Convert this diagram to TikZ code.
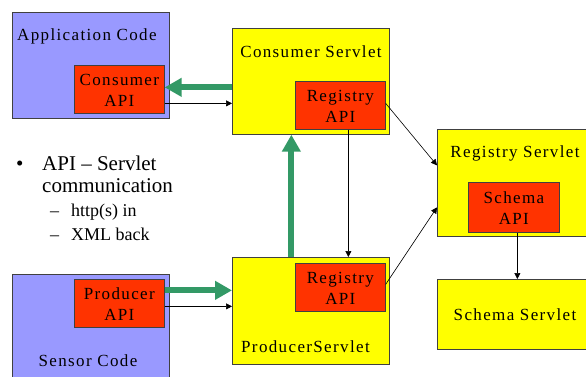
\documentclass[tikz,border=0pt]{standalone}
\usepackage{fontspec}
\setmainfont{Liberation Serif}
\newfontfamily\boxfont[LetterSpace=8]{Liberation Serif}
\usetikzlibrary{arrows.meta}
\definecolor{codeblue}{HTML}{9999FF}
\definecolor{apired}{HTML}{FF3300}
\definecolor{servyellow}{HTML}{FFFF00}
\definecolor{flowgreen}{HTML}{339966}
\tikzset{
  region/.style={draw=black!75, line width=0.7pt, anchor=north west, inner sep=0pt},
  codebox/.style={region, fill=codeblue},
  servbox/.style={region, fill=servyellow},
  apibox/.style={region, fill=apired},
  lbl/.style={font=\boxfont\fontsize{17}{21}\selectfont, inner sep=0pt, align=center},
  thin/.style={draw=black, line width=0.6pt, -{Triangle[length=6pt,width=6pt]}},
  bigflow/.style={draw=flowgreen, line width=6pt, -{Triangle[length=17pt,width=18pt]}},
}
\begin{document}
\begin{tikzpicture}[x=1pt,y=-1pt]
\useasboundingbox (0,0) rectangle (586,376);

% client side boxes
\node[codebox, minimum width=157pt, minimum height=106pt] (app) at (12,12) {};
\node[apibox, minimum width=90pt, minimum height=48pt] (capi) at (74,65) {};
\node[codebox, minimum width=157pt, minimum height=110pt] (sensor) at (12,274) {};
\node[apibox, minimum width=90pt, minimum height=48pt] (papi) at (74,279) {};

% servlets
\node[servbox, minimum width=157pt, minimum height=106pt] (cs) at (232,28) {};
\node[apibox, minimum width=90pt, minimum height=48pt] (crapi) at (295,81) {};
\node[servbox, minimum width=157pt, minimum height=107pt] (ps) at (232,257) {};
\node[apibox, minimum width=90pt, minimum height=48pt] (prapi) at (295,263) {};
\node[servbox, minimum width=149pt, minimum height=107pt] (rs) at (437,129) {};
\node[apibox, minimum width=91pt, minimum height=50pt] (sapi) at (468,182) {};
\node[servbox, minimum width=149pt, minimum height=70pt] (ss) at (437,279) {};

% labels
\node[lbl, anchor=base west] (tapp) at (17,40) {Application Code};
\node[lbl] (tcapi) at ([yshift=-1pt]capi.center) {Consumer\\API};
\node[lbl, anchor=base] (tsensor) at (88,366) {Sensor Code};
\node[lbl] (tpapi) at ([yshift=-1pt]papi.center) {Producer\\API};
\node[lbl, anchor=base] (tcs) at (311,57) {Consumer Servlet};
\node[lbl] (tcrapi) at ([yshift=-1pt]crapi.center) {Registry\\API};
\node[lbl, anchor=base west] (tps) at (241,352) {ProducerServlet};
\node[lbl] (tprapi) at ([yshift=-1pt]prapi.center) {Registry\\API};
\node[lbl, anchor=base] (trs) at (515,157) {Registry Servlet};
\node[lbl] (tsapi) at ([yshift=-1pt]sapi.center) {Schema\\API};
\node[lbl, anchor=base] (tss) at (515,320) {Schema Servlet};

% bullet text
\node[anchor=base west, inner sep=0pt, font=\fontsize{21}{22}\selectfont] (b1) at (16,170) {\textbullet};
\node[anchor=base west, inner sep=0pt, font=\fontsize{21}{22}\selectfont] (b2) at (42,170) {API -- Servlet};
\node[anchor=base west, inner sep=0pt, font=\fontsize{21}{22}\selectfont] (b3) at (42,192) {communication};
\node[anchor=base west, inner sep=0pt, font=\fontsize{18}{20}\selectfont] (b4) at (50,216) {--};
\node[anchor=base west, inner sep=0pt, font=\fontsize{18}{20}\selectfont] (b5) at (71,216) {http(s) in};
\node[anchor=base west, inner sep=0pt, font=\fontsize{18}{20}\selectfont] (b6) at (50,240) {--};
\node[anchor=base west, inner sep=0pt, font=\fontsize{18}{20}\selectfont] (b7) at (71,240) {XML back};

% consumer side connectors
\coordinate (g1) at ([yshift=-6pt]cs.west);
\draw[bigflow] (g1) -- (g1 -| capi.east);
\coordinate (t1) at ([yshift=-14pt]capi.east);
\draw[thin] (t1) -- (t1 -| cs.west);

% producer side connectors
\coordinate (g2) at ([yshift=13pt]papi.east);
\draw[bigflow] (g2) -- (g2 -| ps.west);
\coordinate (t2) at ([yshift=-3pt]papi.east);
\draw[thin] (t2) -- (t2 -| ps.west);

% producer to consumer servlet
\coordinate (g3) at ([xshift=-19.5pt]ps.north);
\draw[bigflow] (g3) -- (g3 |- cs.south);

% registry links
\coordinate (v1) at ([xshift=8pt]crapi.south);
\draw[thin] (v1) -- (v1 |- ps.north);
\draw[thin] ([yshift=2pt]crapi.east) -- ([yshift=17.5pt]rs.west);
\draw[thin] ([yshift=3pt]prapi.east) -- ([yshift=-24.5pt]rs.west);
\coordinate (v2) at ([xshift=3.5pt]sapi.south);
\draw[thin] (v2) -- (v2 |- ss.north);
\end{tikzpicture}
\end{document}
